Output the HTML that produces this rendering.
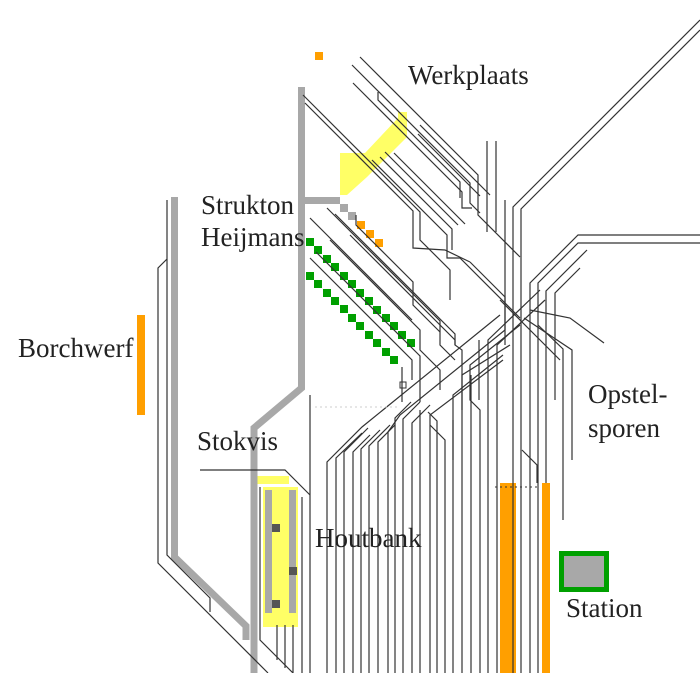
<!DOCTYPE html>
<html><head><meta charset="utf-8"><style>
html,body{margin:0;padding:0;background:#fff;}
svg{display:block}
text{font-family:"Liberation Serif",serif;fill:#222;font-size:27px}
</style></head><body>
<svg width="700" height="673" viewBox="0 0 700 673" xmlns="http://www.w3.org/2000/svg">
<!-- yellow areas -->
<polygon points="340,153 365,153 398,118 398,112 407,112 407,137 367,177 347,195 340,195" fill="#ffff66"/>
<rect x="255" y="476" width="34" height="8" fill="#ffff66"/>
<rect x="263" y="487" width="35" height="140" fill="#ffff66"/>
<rect x="265" y="490" width="7" height="123" fill="#a8a8a8"/>
<rect x="289" y="490" width="7" height="123" fill="#a8a8a8"/>
<rect x="272" y="524" width="8" height="8" fill="#555"/>
<rect x="289" y="567" width="8" height="8" fill="#555"/>
<rect x="272" y="600" width="8" height="8" fill="#555"/>

<!-- gray thick tracks -->
<g stroke="#a8a8a8" stroke-width="7" fill="none">
<polyline points="301.5,87 301.5,388 254,428 254,673"/>
<line x1="305" y1="200.5" x2="340" y2="200.5"/>
<polyline points="174.5,197 174.5,557 246,626 246,640"/>
</g>
<g fill="#a8a8a8">
<rect x="340" y="204" width="8" height="8"/><rect x="348" y="212" width="8" height="8"/>
</g>
<!-- orange -->
<g fill="#ff9f00">
<rect x="315" y="52" width="8" height="8"/>
<rect x="357" y="221" width="8" height="8"/><rect x="366" y="230" width="8" height="8"/><rect x="375" y="239" width="8" height="8"/>
<rect x="137" y="315" width="8" height="100"/>
<rect x="500" y="483" width="16" height="190"/>
<rect x="542" y="483" width="8" height="190"/>
</g>
<!-- green squares -->
<g fill="#00a000">
<rect x="306" y="238" width="8" height="8"/><rect x="314" y="246" width="8" height="8"/><rect x="323" y="255" width="8" height="8"/><rect x="331" y="263" width="8" height="8"/><rect x="340" y="272" width="8" height="8"/><rect x="348" y="280" width="8" height="8"/><rect x="356" y="289" width="8" height="8"/><rect x="365" y="297" width="8" height="8"/><rect x="373" y="306" width="8" height="8"/><rect x="382" y="314" width="8" height="8"/><rect x="390" y="322" width="8" height="8"/><rect x="398" y="331" width="8" height="8"/><rect x="407" y="339" width="8" height="8"/>
<rect x="306" y="272" width="8" height="8"/><rect x="314" y="280" width="8" height="8"/><rect x="323" y="289" width="8" height="8"/><rect x="331" y="297" width="8" height="8"/><rect x="340" y="305" width="8" height="8"/><rect x="348" y="314" width="8" height="8"/><rect x="356" y="322" width="8" height="8"/><rect x="365" y="331" width="8" height="8"/><rect x="373" y="339" width="8" height="8"/><rect x="382" y="348" width="8" height="8"/><rect x="390" y="356" width="8" height="8"/>
</g>
<!-- station -->
<rect x="561.5" y="553.5" width="45" height="36" fill="#a8a8a8" stroke="#00a000" stroke-width="5"/>

<!-- black thin tracks -->
<g stroke="#333" stroke-width="1.2" fill="none">
<polyline points="167,200 167,259 158,268 158,563 268,673"/>
<polyline points="167,259 167,555 210,598 210,612"/>
<polyline points="200,470 285,470 310,495"/>
<polyline points="260,487 260,640 293,673"/>
<line x1="277" y1="625" x2="277" y2="660"/><line x1="285" y1="625" x2="285" y2="668"/><line x1="293" y1="625" x2="293" y2="673"/>
<line x1="302" y1="497" x2="302" y2="673"/>
<line x1="310" y1="395" x2="310" y2="673"/>
<polyline points="360,57 478,175 478,215 520,257"/>
<polyline points="352,65 470,183 470,203 480,213"/>
<polyline points="353,83 462,192 462,208 472,208"/>
<polyline points="378,92 378,100 460,182 460,198"/>
<polyline points="303,95 420,212 420,240 450,270 450,300"/>
<polyline points="305,103 413,211 413,248 445,250 470,262"/>
<polyline points="372,160 447,235 447,258 460,258 520,318"/>
<polyline points="380,157 452,229 452,250"/>
<polyline points="385,152 458,225"/>
<polyline points="394,153 465,224"/>
<polyline points="418,134 480,196"/>
<polyline points="420,125 490,195"/>
<polyline points="356,215 356,225 413,282 413,305 440,332"/>
<polyline points="327,208 440,321 440,345 455,360"/>
<polyline points="335,214 455,334 455,345"/>
<polyline points="310,218 412,320"/>
<polyline points="310,258 412,360 412,380"/>
<polyline points="316,252 420,356 420,402"/>
<polyline points="330,240 420,330 420,350 440,370 440,390"/>
<polyline points="350,235 455,340 455,345 462,350 462,410"/>
<polyline points="402,367 402,402"/>
<line x1="487" y1="141" x2="487" y2="232"/>
<line x1="496" y1="141" x2="496" y2="232"/>
<line x1="505" y1="200" x2="505" y2="330"/>
<polyline points="700,20 513,207 513,673"/>
<polyline points="700,30 521,209 521,673"/>
<polyline points="700,235 578,235 530,283 530,673"/>
<polyline points="700,243 578,243 538,283 538,673"/>
<polyline points="587,250 546,291 546,483"/>
<polyline points="580,268 555,293 555,400"/>
<polyline points="530,310 570,318 604,343"/>
<polyline points="524,318 572,350 572,460"/>
<polyline points="538,325 563,349 563,520"/>
<polyline points="470,262 505,297 505,345"/>
<polyline points="500,300 540,340 560,360"/>
<polyline points="545,300 497,345 497,673"/>
<polyline points="540,290 488,340 488,673"/>
<polyline points="520,325 470,365 470,400 480,410 480,673"/>
<polyline points="510,345 462,375 462,673"/>
<polyline points="503,355 453,395 453,673"/>
<polyline points="503,360 430,415 430,673"/>
<polyline points="505,330 400,415 388,432 388,673"/>
<polyline points="500,315 362,427 327,462 327,673"/>
<polyline points="362,433 336,458 336,673"/>
<polyline points="368,428 344,452 344,673"/>
<polyline points="370,435 353,452 353,673"/>
<polyline points="380,430 361,449 361,673"/>
<polyline points="390,425 369,446 369,673"/>
<polyline points="395,425 378,442 378,673"/>
<polyline points="411,402 395,418 395,673"/>
<polyline points="420,402 403,419 403,673"/>
<polyline points="430,405 412,423 412,673"/>
<polyline points="420,410 420,673"/>
<polyline points="428,412 437,421 437,673"/>
<polyline points="445,673 445,440 430,425"/>
<polyline points="453,420 453,460"/>
<polyline points="471,375 471,673"/>
<polyline points="479,340 479,400"/>
<polyline points="522,450 537,465 537,483"/>
</g>
<rect x="400" y="382" width="6" height="6" fill="none" stroke="#333" stroke-width="1"/>
<g stroke="#333" stroke-width="1" stroke-dasharray="2,3">
<line x1="495" y1="487" x2="540" y2="487"/>
<line x1="315" y1="407" x2="400" y2="407" stroke="#ccc"/>
</g>
<text x="408" y="84">Werkplaats</text>
<text x="201" y="214">Strukton</text>
<text x="201" y="246">Heijmans</text>
<text x="18" y="357">Borchwerf</text>
<text x="197" y="450">Stokvis</text>
<text x="315" y="547">Houtbank</text>
<text x="588" y="403">Opstel-</text>
<text x="588" y="437">sporen</text>
<text x="566" y="617">Station</text>
</svg>
</body></html>
